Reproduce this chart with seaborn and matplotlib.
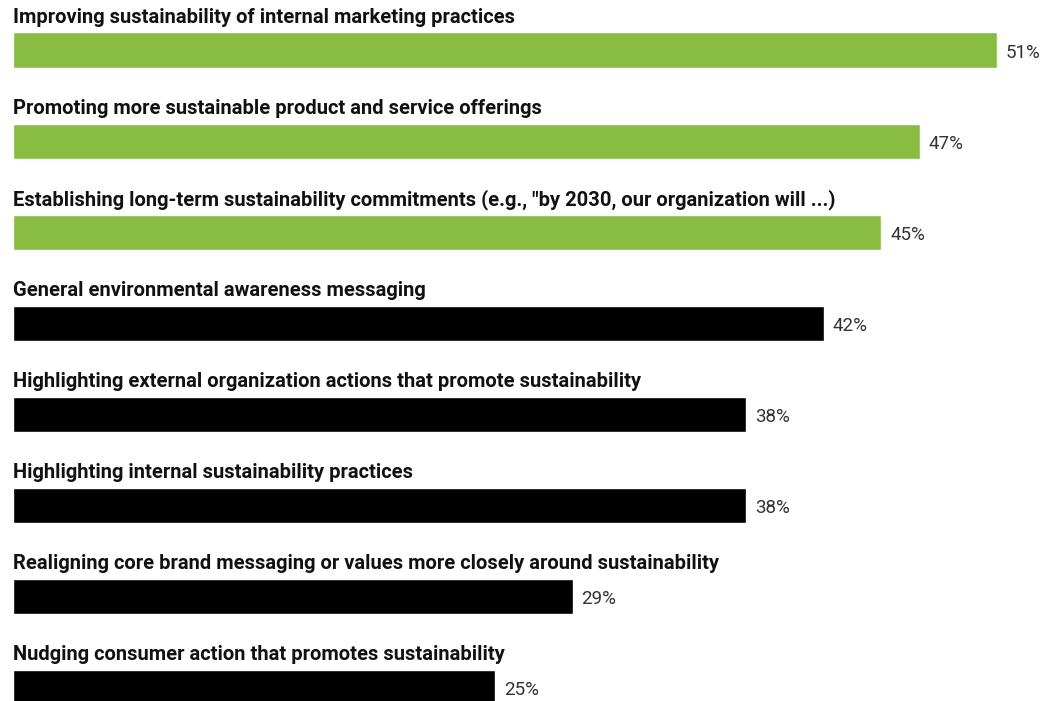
import matplotlib
matplotlib.use('Agg')
import matplotlib.pyplot as plt
import seaborn as sns
import pandas as pd

# data
kategori = [
    'Improving sustainability of internal marketing practices',
    'Promoting more sustainable product and service offerings',
    'Establishing long-term sustainability commitments (e.g., "by 2030, our organization will ...)',
    'General environmental awareness messaging',
    'Highlighting external organization actions that promote sustainability',
    'Highlighting internal sustainability practices',
    'Realigning core brand messaging or values more closely around sustainability',
    'Nudging consumer action that promotes sustainability',
]
persen = [51, 47, 45, 42, 38, 38, 29, 25]
warna = ['#88BD41'] * 3 + ['#000000'] * 5

sns.set_theme(style='white')
plt.rcParams['font.family'] = ['Roboto', 'DejaVu Sans']

data = pd.DataFrame({'kategori': kategori, 'persen': persen})

fig = plt.figure(figsize=(10.41, 7.01), dpi=100)
ax = fig.add_axes([0, 0, 1, 1])
sns.barplot(data=data, x='persen', y='kategori', hue='kategori', palette=warna,
            legend=False, width=0.385, orient='h', ax=ax, saturation=1)

for i, (k, p) in enumerate(zip(kategori, persen)):
    ax.text(0, i - 0.36, k, ha='left', va='center', fontsize=14.5, fontweight='bold', color='#111111')
    ax.text(p + 0.45, i + 0.03, f'{p}%', ha='left', va='center', fontsize=13.5, color='#333333')

ax.set_xlim(-0.674, 53.27)
ax.set_ylim(7.146, -0.549)
ax.axis('off')

fig.savefig('out.png', dpi=100)
